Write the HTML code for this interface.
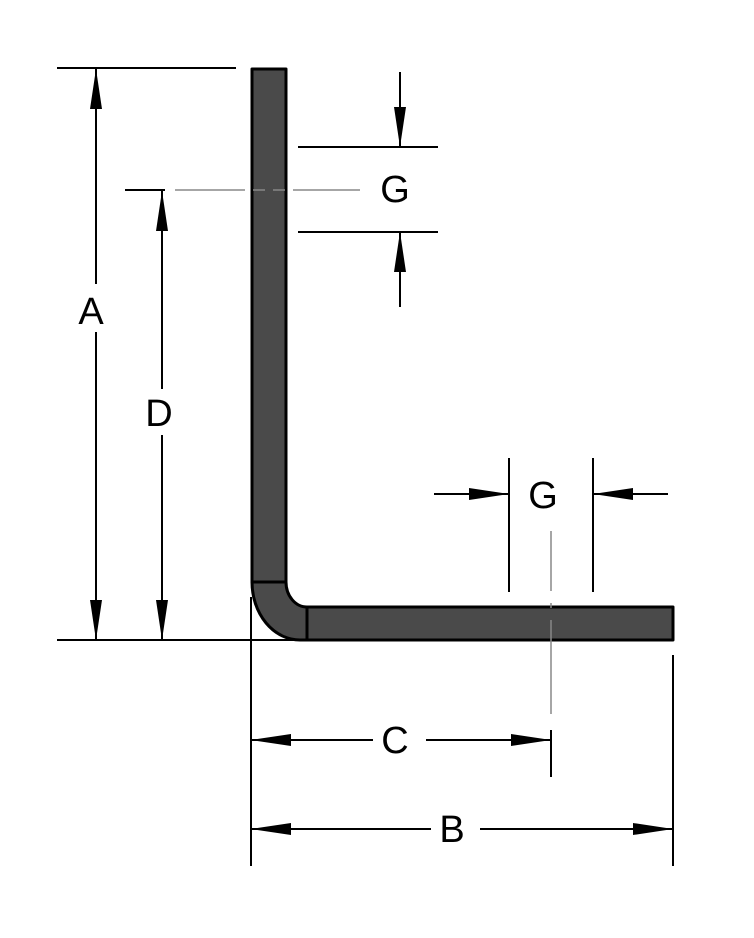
<!DOCTYPE html>
<html><head><meta charset="utf-8"><style>
html,body{margin:0;padding:0;background:#fff;}
svg{display:block;}
text{font-family:"Liberation Sans",sans-serif;font-size:38px;fill:#000;}
</style></head><body>
<svg width="754" height="938" viewBox="0 0 754 938" xmlns="http://www.w3.org/2000/svg">
<defs>
<marker id="ah" viewBox="0 0 40 12" refX="40" refY="6" markerWidth="40" markerHeight="12" markerUnits="userSpaceOnUse" orient="auto">
<path d="M0,0 L40,6 L0,12 Z" fill="#000"/>
</marker>
</defs>
<g fill="#4a4a4a" stroke="#000" stroke-width="3" stroke-linejoin="round">
<rect x="252" y="69" width="34" height="513"/>
<path d="M252,582 L286,582 A21,25 0 0 0 307,607 L307,640 L300,640 A48,58 0 0 1 252,582 Z"/>
<rect x="307" y="607" width="366" height="33"/>
</g>
<g stroke="#000" stroke-width="2" fill="none">
<line x1="57" y1="68" x2="236" y2="68"/>
<line x1="125" y1="190" x2="165" y2="190"/>
<line x1="57" y1="640" x2="300" y2="640"/>
<line x1="298" y1="147" x2="438" y2="147"/>
<line x1="298" y1="232" x2="438" y2="232"/>
<line x1="509" y1="458" x2="509" y2="592"/>
<line x1="593" y1="458" x2="593" y2="592"/>
<line x1="251" y1="597" x2="251" y2="866"/>
<line x1="673" y1="655" x2="673" y2="866"/>
<line x1="551" y1="730" x2="551" y2="777"/>
<line x1="96" y1="284" x2="96" y2="69" marker-end="url(#ah)"/>
<line x1="96" y1="332" x2="96" y2="640" marker-end="url(#ah)"/>
<line x1="162" y1="389" x2="162" y2="191" marker-end="url(#ah)"/>
<line x1="162" y1="435" x2="162" y2="640" marker-end="url(#ah)"/>
<line x1="400" y1="72" x2="400" y2="147" marker-end="url(#ah)"/>
<line x1="400" y1="307" x2="400" y2="232" marker-end="url(#ah)"/>
<line x1="434" y1="494" x2="509" y2="494" marker-end="url(#ah)"/>
<line x1="668" y1="494" x2="593" y2="494" marker-end="url(#ah)"/>
<line x1="373" y1="740" x2="251" y2="740" marker-end="url(#ah)"/>
<line x1="426" y1="740" x2="551" y2="740" marker-end="url(#ah)"/>
<line x1="431" y1="829" x2="251" y2="829" marker-end="url(#ah)"/>
<line x1="480" y1="829" x2="673" y2="829" marker-end="url(#ah)"/>
</g>
<g stroke="#888" stroke-width="1.5" fill="none">
<line x1="175" y1="190" x2="360" y2="190" stroke-dasharray="70,8,12,8,12,8,80"/>
<line x1="551" y1="531" x2="551" y2="714" stroke-dasharray="60,12,5,12,120"/>
</g>
<text x="91" y="324" text-anchor="middle">A</text>
<text x="159" y="426" text-anchor="middle">D</text>
<text x="395" y="202" text-anchor="middle">G</text>
<text x="543" y="508" text-anchor="middle">G</text>
<text x="395" y="753" text-anchor="middle">C</text>
<text x="452" y="842" text-anchor="middle">B</text>
</svg>
</body></html>
